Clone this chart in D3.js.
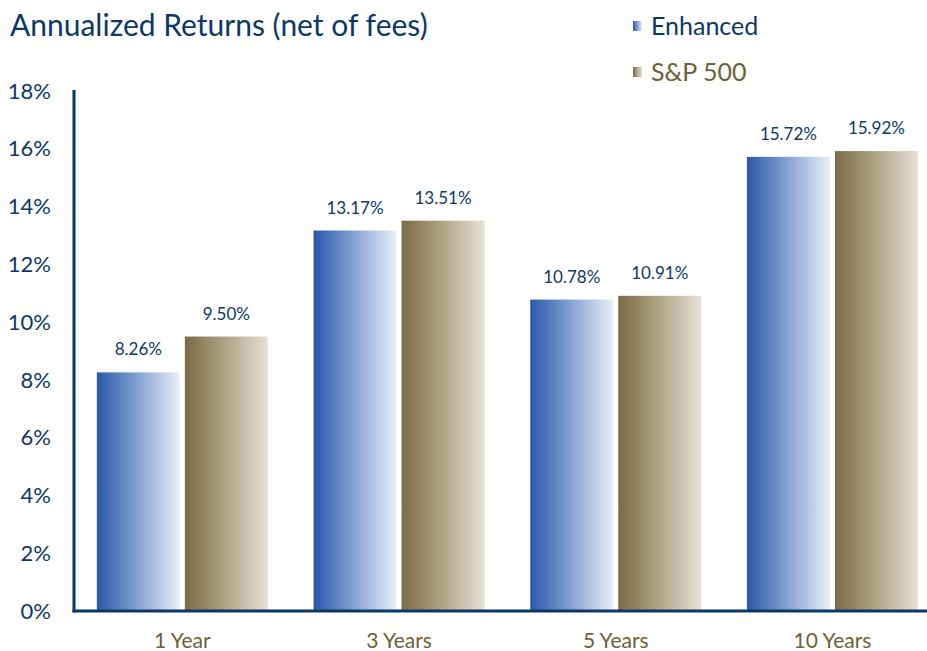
<!DOCTYPE html>
<html>
<head>
<meta charset="utf-8">
<script src="https://cdn.jsdelivr.net/npm/d3@7"></script>
<style>
  body { margin: 0; background: #fff; }
  text { font-family: "Lato", "Open Sans", sans-serif; }
</style>
</head>
<body>
<div id="chart-area"></div>
<script>
var periods = ["1 Year", "3 Years", "5 Years", "10 Years"];
var seriesNames = ["Enhanced", "S&P 500"];
var enhanced = [8.26, 13.17, 10.78, 15.72];
var sp500 = [9.50, 13.51, 10.91, 15.92];
var yTicks = [0, 2, 4, 6, 8, 10, 12, 14, 16, 18];

var navy = "#0c3868";
var olive = "#6e5f36";

var width = 927, height = 651;
var margin = { top: 91, left: 74, bottom: 40 };
var plotBottom = 611;
var groupWidth = 171;

var svg = d3.select("#chart-area")
  .append("svg")
  .attr("width", width)
  .attr("height", height);

var defs = svg.append("defs");
var gradBlue = defs.append("linearGradient").attr("id", "gBlue")
  .attr("x1", "0%").attr("x2", "100%").attr("y1", "0%").attr("y2", "0%");
gradBlue.append("stop").attr("offset", "0%").attr("stop-color", "#2a58a8");
gradBlue.append("stop").attr("offset", "45%").attr("stop-color", "#7d9ccf");
gradBlue.append("stop").attr("offset", "100%").attr("stop-color", "#eaeefa");

var gradTan = defs.append("linearGradient").attr("id", "gTan")
  .attr("x1", "0%").attr("x2", "100%").attr("y1", "0%").attr("y2", "0%");
gradTan.append("stop").attr("offset", "0%").attr("stop-color", "#7a6b45");
gradTan.append("stop").attr("offset", "45%").attr("stop-color", "#ab9f80");
gradTan.append("stop").attr("offset", "100%").attr("stop-color", "#e6e1d6");

var x = d3.scaleBand()
  .domain(periods)
  .range([margin.left, margin.left + 4 * 216.7]);

var xInner = d3.scaleBand()
  .domain(seriesNames)
  .range([0, groupWidth])
  .paddingInner(5 / 88);

var y = d3.scaleLinear()
  .domain([0, 18])
  .range([plotBottom, margin.top]);

// y tick labels
svg.append("g")
  .selectAll("text")
  .data(yTicks)
  .enter().append("text")
  .attr("x", 51)
  .attr("y", d => y(d))
  .attr("dy", "0.35em")
  .attr("text-anchor", "end")
  .attr("font-size", "22px")
  .style("fill", navy)
  .text(d => d + "%");

// bars
var data = [];
periods.forEach((p, i) => {
  data.push({ period: p, series: "Enhanced", value: enhanced[i] });
  data.push({ period: p, series: "S&P 500", value: sp500[i] });
});

var groupOffset = (x.bandwidth() - groupWidth) / 2;

svg.append("g")
  .selectAll("rect")
  .data(data)
  .enter().append("rect")
  .attr("x", d => x(d.period) + groupOffset + xInner(d.series))
  .attr("y", d => y(d.value))
  .attr("width", xInner.bandwidth())
  .attr("height", d => plotBottom - y(d.value))
  .attr("fill", d => d.series == "Enhanced" ? "url(#gBlue)" : "url(#gTan)");

// value labels
svg.append("g")
  .selectAll("text")
  .data(data)
  .enter().append("text")
  .attr("x", d => x(d.period) + groupOffset + xInner(d.series) + xInner.bandwidth() / 2)
  .attr("y", d => y(d.value) - 17)
  .attr("text-anchor", "middle")
  .attr("font-size", "17px")
  .style("fill", navy)
  .text(d => d.value.toFixed(2) + "%");

// axes lines
svg.append("line")
  .attr("x1", margin.left).attr("x2", margin.left)
  .attr("y1", 90).attr("y2", plotBottom + 1.5)
  .style("stroke", navy).style("stroke-width", 3);
svg.append("line")
  .attr("x1", margin.left - 1.5).attr("x2", width)
  .attr("y1", plotBottom).attr("y2", plotBottom)
  .style("stroke", navy).style("stroke-width", 3);

// category labels
svg.append("g")
  .selectAll("text")
  .data(periods)
  .enter().append("text")
  .attr("x", d => x(d) + x.bandwidth() / 2)
  .attr("y", 648)
  .attr("text-anchor", "middle")
  .attr("font-size", "21px")
  .style("fill", olive)
  .text(d => d);

// title
svg.append("text")
  .attr("x", 10)
  .attr("y", 36)
  .attr("font-size", "30px")
  .style("fill", navy)
  .text("Annualized Returns (net of fees)");

// legend
var legend = svg.append("g")
  .selectAll("g")
  .data(seriesNames)
  .enter().append("g")
  .attr("transform", (d, i) => "translate(633, " + (26 + i * 46) + ")");
legend.append("rect")
  .attr("x", 0).attr("y", -5)
  .attr("width", 9).attr("height", 10)
  .attr("fill", (d, i) => i == 0 ? "url(#gBlue)" : "url(#gTan)");
legend.append("text")
  .attr("x", 18)
  .attr("dy", "0.35em")
  .attr("font-size", "25px")
  .style("fill", (d, i) => i == 0 ? navy : olive)
  .text(d => d);
</script>
</body>
</html>
